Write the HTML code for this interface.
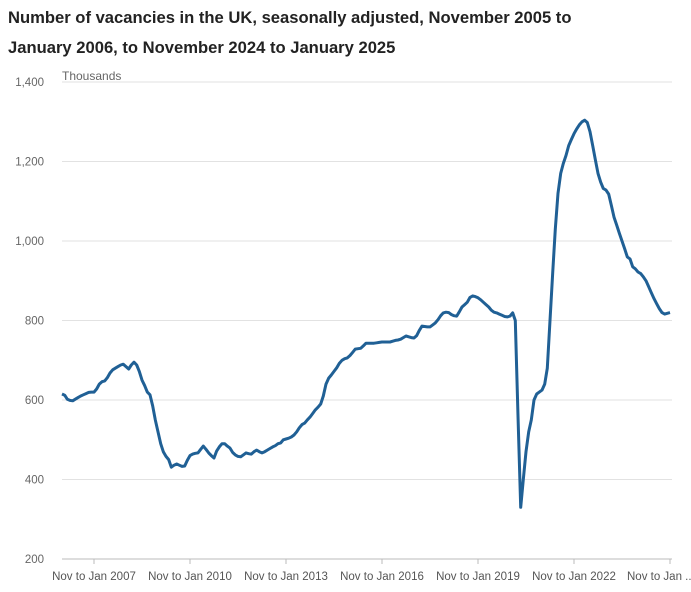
<!DOCTYPE html>
<html><head><meta charset="utf-8"><style>
body{margin:0;background:#fff;font-family:"Liberation Sans",sans-serif;}
.t{position:absolute;left:8px;font-weight:bold;font-size:16.6px;color:#222;}
</style></head><body>
<div style="position:relative;width:691px;height:592px;overflow:hidden">
<div class="t" style="top:8px">Number of vacancies in the UK, seasonally adjusted, November 2005 to</div>
<div class="t" style="top:38px">January 2006, to November 2024 to January 2025</div>
<svg id="s" width="691" height="592" style="position:absolute;left:0;top:0"></svg>
</div>
<script>
const values=[615,612,602,599,598,602,606,610,613,616,619,620,
620,628,640,646,648,656,668,676,680,684,688,690,
684,678,688,695,688,672,650,636,620,613,585,550,
520,490,470,458,450,431,436,439,436,433,434,448,
460,464,466,467,476,484,476,467,460,454,472,482,
490,490,484,479,468,462,458,457,462,467,465,464,
470,474,470,467,470,474,478,482,485,490,492,500,
502,504,507,512,520,530,538,542,550,557,566,575,
582,590,610,640,655,663,672,681,692,700,704,706,
712,720,728,729,730,736,743,743,743,743,744,745,
746,746,746,746,748,750,751,753,757,761,759,757,
756,762,775,786,785,784,784,789,794,802,812,819,
821,820,815,812,811,822,834,840,846,858,862,860,
857,852,846,840,834,826,821,819,816,813,810,809,
811,819,800,560,330,400,470,520,550,600,615,620,
625,640,680,800,920,1030,1120,1170,1195,1215,1240,1255,
1270,1282,1292,1300,1304,1298,1275,1240,1205,1170,1148,1132,
1128,1118,1090,1060,1040,1020,1000,980,960,955,935,930,
922,918,910,900,885,870,855,842,830,820,816,818,
820];
const yTicks=[200,400,600,800,1000,1200,1400];
const xTickLabels=["Nov to Jan 2007","Nov to Jan 2010","Nov to Jan 2013","Nov to Jan 2016","Nov to Jan 2019","Nov to Jan 2022","Nov to Jan ..."];
const xTickIdx=[12,48,84,120,156,192,228];
const NS="http://www.w3.org/2000/svg",s=document.getElementById('s');
const x0=62,x1=670,yb=559,yt=82;
const X=i=>x0+i*(x1-x0)/(values.length-1);
const Y=v=>yb-(v-200)*(yb-yt)/1200;
function mk(t,a,txt){const e=document.createElementNS(NS,t);for(const k in a)e.setAttribute(k,a[k]);if(txt!=null)e.textContent=txt;s.appendChild(e);return e;}
yTicks.forEach(v=>{
 const g=mk('line',{x1:x0,x2:x1+2,y1:Y(v),y2:Y(v),stroke:v==200?'#bbb':'#e2e2e2','stroke-width':1});
 
 
 const t=mk('text',{x:44,y:Y(v)+4,'text-anchor':'end','font-size':11.5,fill:'#666','font-family':'Liberation Sans'},v.toLocaleString('en-US'));
 
 
});
const u=mk('text',{x:62,y:80,'font-size':12,fill:'#666','font-family':'Liberation Sans'},'Thousands');


xTickIdx.forEach((i,k)=>{
 const l=mk('line',{x1:X(i),x2:X(i),y1:yb,y2:yb+5,stroke:'#bbb'});
 
 
 const last=k==xTickIdx.length-1;
 const t=mk('text',{x:last?627:X(i),y:580,'text-anchor':last?'start':'middle','font-size':11.5,fill:'#555','font-family':'Liberation Sans'},xTickLabels[k]);
 
 
});
const p=mk('path',{d:values.map((v,i)=>(i?'L':'M')+X(i).toFixed(1)+' '+Y(v).toFixed(1)).join(''),fill:'none',stroke:'#206095','stroke-width':3,'stroke-linejoin':'round'});


</script>
</body></html>
